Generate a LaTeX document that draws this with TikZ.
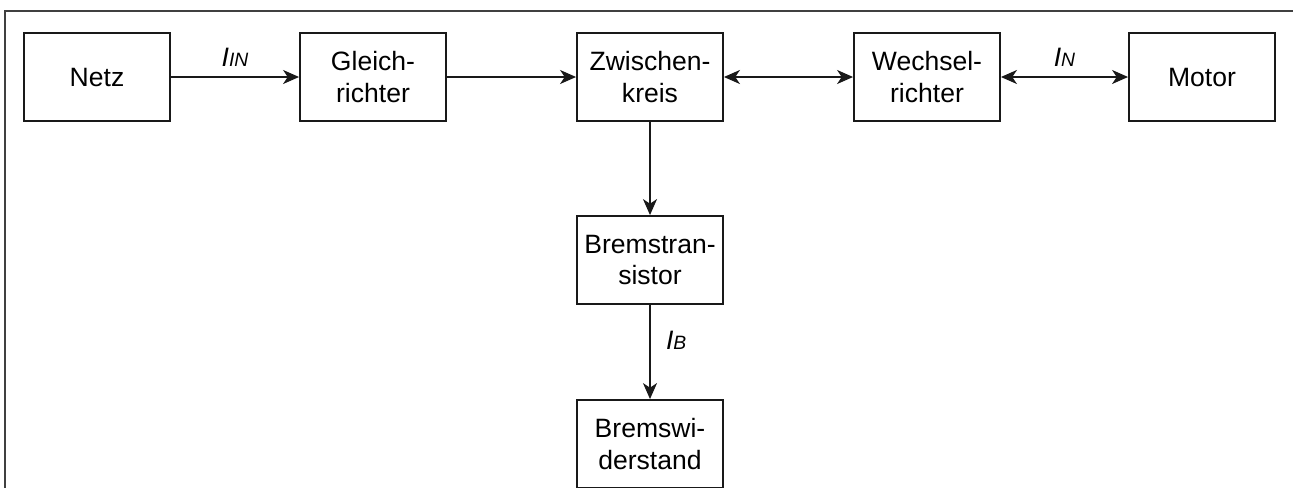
\documentclass[tikz,border=0pt]{standalone}
\usepackage{fontspec}
\setmainfont{Liberation Sans}
\usetikzlibrary{arrows.meta}
\newcommand{\lbl}[2]{{\itshape\fontsize{20}{24}\selectfont #1{\fontsize{14.5}{17}\selectfont #2}}}
\begin{document}
\begin{tikzpicture}[x=0.75pt,y=-0.75pt,
  blk/.style={draw=black!90, line width=1.4pt, minimum width=109.5pt, minimum height=66pt,
    inner sep=0pt, align=center, font=\fontsize{19.9}{23.8}\selectfont},
  conn/.style={line width=1.4pt, draw=black!90, -{Stealth[length=12pt,width=10.5pt,inset=3.5pt]}},
  biconn/.style={line width=1.4pt, draw=black!90, {Stealth[length=12pt,width=10.5pt,inset=3.5pt]}-{Stealth[length=12pt,width=10.5pt,inset=3.5pt]}},
  frame/.style={draw=black!75, line width=1.5pt}]
\clip (0,0) rectangle (1293,487);
\coordinate (fb) at (5,500);
\coordinate (fc) at (5,11);
\coordinate (fr) at (1300,11);
\draw[frame] (fb) -- (fc) -- (fr);
\node[blk] (netz) at (97,77) {Netz};
\node[blk] (gleich) at (373,77) {Gleich-\\richter};
\node[blk] (zwk) at (650,77) {Zwischen-\\kreis};
\node[blk] (wr) at (927,77) {Wechsel-\\richter};
\node[blk] (motor) at (1202,77) {Motor};
\node[blk] (bt) at (650,260) {Bremstran-\\sistor};
\node[blk] (bw) at (650,444) {Bremswi-\\derstand};
\draw[conn] (netz) -- node[anchor=base, above=4pt] (lin) {\lbl{I}{IN}} (gleich);
\draw[conn] (gleich) -- (zwk);
\draw[biconn] (zwk) -- (wr);
\draw[biconn] (wr) -- node[anchor=base, above=4pt] (ln) {\lbl{I}{N}} (motor);
\draw[conn] (zwk) -- (bt);
\draw[conn] (bt) -- node[right=8pt, yshift=9pt] (lb) {\lbl{I}{B}} (bw);
\end{tikzpicture}
\end{document}
